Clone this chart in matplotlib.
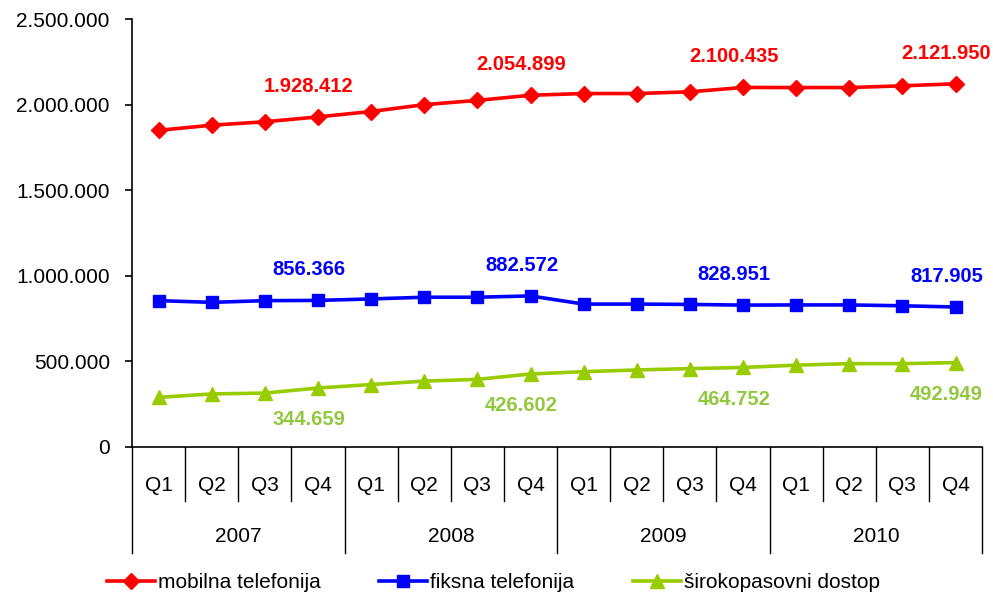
import matplotlib
matplotlib.use("Agg")
import matplotlib.pyplot as plt
import matplotlib.transforms as mtransforms
from matplotlib.lines import Line2D
from matplotlib.ticker import FuncFormatter

plt.rcParams['font.family'] = ['Liberation Sans', 'DejaVu Sans']

# data
quarters = ["Q1", "Q2", "Q3", "Q4"] * 4
years = ["2007", "2008", "2009", "2010"]

mobilna = [1850000, 1880000, 1900000, 1928412, 1960000, 2000000, 2025000, 2054899,
           2065000, 2065000, 2075000, 2100435, 2100000, 2100000, 2110000, 2121950]
fiksna = [855000, 845000, 855000, 856366, 865000, 875000, 875000, 882572,
          835000, 835000, 833000, 828951, 830000, 830000, 825000, 817905]
sirokopasovni = [290000, 310000, 315000, 344659, 365000, 385000, 395000, 426602,
                 440000, 450000, 458000, 464752, 478000, 487000, 487000, 492949]

series_names = ["mobilna telefonija", "fiksna telefonija", "širokopasovni dostop"]
label_idx = [3, 7, 11, 15]


def dots(v, pos=None):
    return f"{int(round(v)):,}".replace(",", ".")


fig = plt.figure(figsize=(9.93, 5.96), dpi=100)
ax = fig.add_axes([0.133, 0.25, 0.856, 0.718])

x = list(range(len(quarters)))
ax.plot(x, mobilna, color='#FF0000', lw=2.6, marker='D', ms=8.5, label=series_names[0])
ax.plot(x, fiksna, color='#0000FF', lw=2.6, marker='s', ms=8.5, label=series_names[1])
ax.plot(x, sirokopasovni, color='#99CC00', lw=2.6, marker='^', ms=9.5, label=series_names[2])

# value labels on Q4 points
for i in label_idx:
    ax.annotate(dots(mobilna[i]), (x[i], mobilna[i]), xytext=(-6.5, 22), textcoords='offset points',
                ha='center', va='center', color='#FF0000', fontsize=14.5, fontweight='bold')
    ax.annotate(dots(fiksna[i]), (x[i], fiksna[i]), xytext=(-6.5, 22), textcoords='offset points',
                ha='center', va='center', color='#0000FF', fontsize=14.5, fontweight='bold')
    ax.annotate(dots(sirokopasovni[i]), (x[i], sirokopasovni[i]), xytext=(-6.5, -23),
                textcoords='offset points', ha='center', va='center', color='#92C83E',
                fontsize=14.5, fontweight='bold')

ax.set_ylim(0, 2500000)
ax.set_xlim(-0.5, len(quarters) - 0.5)
ax.set_yticks(range(0, 2500001, 500000))
ax.yaxis.set_major_formatter(FuncFormatter(dots))
ax.tick_params(axis='y', labelsize=15, length=5, width=1.2, pad=11)
ax.set_xticks([])
for s in ['top', 'right']:
    ax.spines[s].set_visible(False)
for s in ['left', 'bottom']:
    ax.spines[s].set_linewidth(1.2)

# two-level category axis
trans = mtransforms.blended_transform_factory(ax.transData, ax.transAxes)
for i, q in enumerate(quarters):
    ax.text(i, -0.089, q, transform=trans, ha='center', va='center', fontsize=15)
for k, y in enumerate(years):
    ax.text(4 * k + 1.5, -0.21, y, transform=trans, ha='center', va='center', fontsize=15)
for i in range(len(quarters) + 1):
    bottom = -0.248 if i % 4 == 0 else -0.126
    ax.add_line(Line2D([i - 0.5, i - 0.5], [0, bottom], transform=trans,
                       color='black', lw=1.0, clip_on=False))

fig.legend(loc='center', bbox_to_anchor=(0.497, 0.022), ncol=3, frameon=False,
           fontsize=15, handlelength=2.3, handletextpad=0.15, columnspacing=2.8)

fig.savefig("out.png", dpi=100)
